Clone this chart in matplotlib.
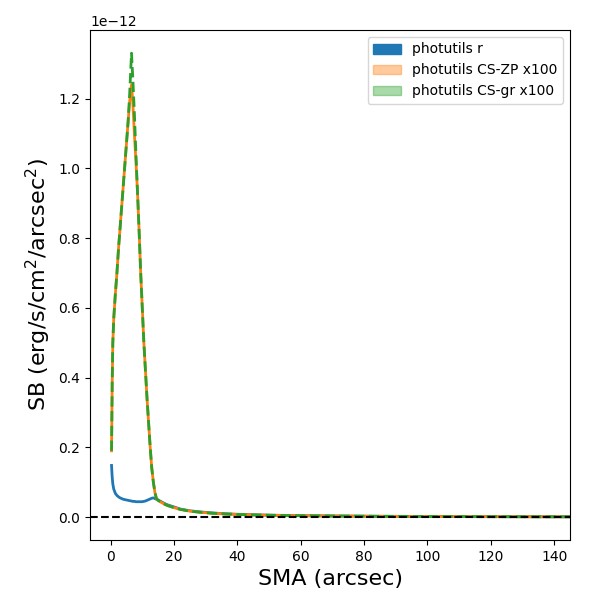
import numpy as np
import matplotlib
matplotlib.use('Agg')
import matplotlib.pyplot as plt
from matplotlib.patches import Patch

# semi-major axis (arcsec)
sma = [0.3, 0.5, 0.7, 1.0, 1.5, 2.0, 2.5, 3.0, 3.5, 4.0, 4.5, 5.0, 5.5, 6.0, 6.6,
       7.0, 7.5, 8.0, 8.5, 9.0, 9.5, 10.0, 10.5, 11.0, 11.5, 12.0, 12.5, 13.0,
       13.5, 14.0, 14.5, 15.0, 16, 17, 18, 20, 22, 25, 28, 32, 36, 40, 45, 50,
       56, 63, 70, 78, 86, 95, 105, 115, 126, 138, 150]

# surface brightness, units of 1e-12 erg/s/cm^2/arcsec^2
sb_r = [0.148, 0.115, 0.095, 0.080, 0.068, 0.062, 0.058, 0.055, 0.053, 0.051,
        0.050, 0.049, 0.048, 0.047, 0.046, 0.045, 0.045, 0.044, 0.044, 0.044,
        0.044, 0.044, 0.045, 0.046, 0.048, 0.050, 0.052, 0.054, 0.055, 0.053,
        0.051, 0.049, 0.044, 0.039, 0.035, 0.029, 0.023, 0.018, 0.015, 0.012,
        0.0095, 0.008, 0.0066, 0.0055, 0.0046, 0.0038, 0.0032, 0.0027, 0.0022,
        0.0019, 0.0016, 0.0013, 0.0011, 0.0009, 0.0008]

sb_zp = [0.19, 0.38, 0.50, 0.57, 0.64, 0.70, 0.77, 0.83, 0.89, 0.95, 1.01, 1.07,
         1.13, 1.19, 1.24, 1.19, 1.10, 1.02, 0.93, 0.82, 0.70, 0.60, 0.50, 0.42,
         0.34, 0.27, 0.20, 0.14, 0.10, 0.07, 0.052, 0.048, 0.042, 0.037, 0.033,
         0.027, 0.022, 0.017, 0.014, 0.011, 0.009, 0.0075, 0.0062, 0.0052,
         0.0043, 0.0036, 0.003, 0.0025, 0.0021, 0.0018, 0.0015, 0.0012, 0.001,
         0.0008, 0.0007]

sb_gr = [0.19, 0.38, 0.50, 0.57, 0.64, 0.70, 0.77, 0.83, 0.89, 0.95, 1.01, 1.07,
         1.13, 1.21, 1.33, 1.26, 1.16, 1.04, 0.93, 0.82, 0.70, 0.60, 0.50, 0.42,
         0.34, 0.27, 0.20, 0.14, 0.10, 0.07, 0.052, 0.048, 0.042, 0.037, 0.033,
         0.027, 0.022, 0.017, 0.014, 0.011, 0.009, 0.0075, 0.0062, 0.0052,
         0.0043, 0.0036, 0.003, 0.0025, 0.0021, 0.0018, 0.0015, 0.0012, 0.001,
         0.0008, 0.0007]

sma = np.array(sma)
sb_r = np.array(sb_r) * 1e-12
sb_zp = np.array(sb_zp) * 1e-12
sb_gr = np.array(sb_gr) * 1e-12

fig = plt.figure(figsize=(6, 6), dpi=100)
ax = fig.add_axes([0.15, 0.10, 0.80, 0.85])

ax.plot(sma, sb_r, color='C0', lw=2)
ax.plot(sma, sb_zp, color='C1', lw=2)
ax.plot(sma, sb_gr, color='C2', lw=2, ls='--')
ax.axhline(0, color='k', ls='--', lw=1.5)
ax.set_xlim(-6.5, 145)

handles = [Patch(color='C0', label='photutils r'),
           Patch(color='C1', alpha=0.4, label='photutils CS-ZP x100'),
           Patch(color='C2', alpha=0.4, label='photutils CS-gr x100')]
ax.legend(handles=handles, loc='upper right')

ax.set_xlabel('SMA (arcsec)', fontsize=16)
ax.set_ylabel('SB (erg/s/cm$^2$/arcsec$^2$)', fontsize=16)

plt.savefig('out.png', dpi=100)
